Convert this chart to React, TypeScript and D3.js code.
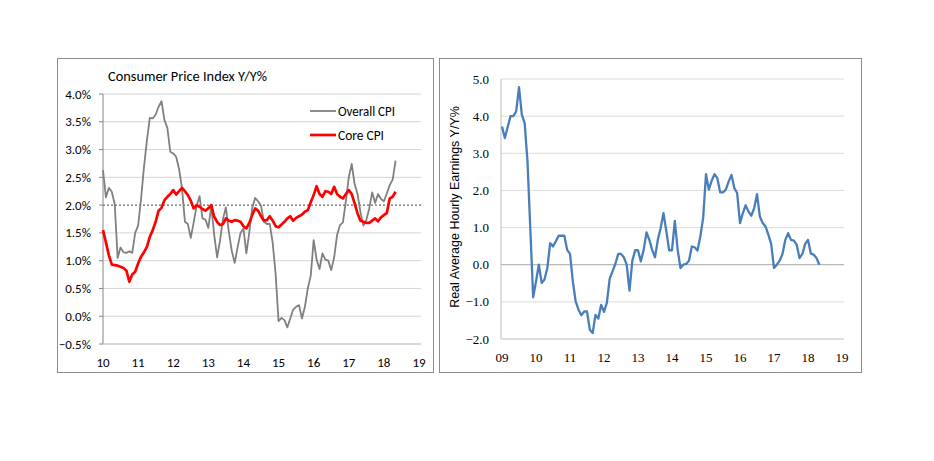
import * as d3 from 'd3';

// Consumer Price Index Y/Y%, monthly Jan 2010 - May 2018
const overallCpi = [
  2.63, 2.14, 2.31, 2.24, 2.02, 1.05, 1.24, 1.15, 1.14, 1.17, 1.14, 1.5,
  1.63, 2.11, 2.68, 3.16, 3.57, 3.56, 3.63, 3.77, 3.87, 3.53, 3.39, 2.96,
  2.93, 2.87, 2.65, 2.3, 1.7, 1.66, 1.41, 1.69, 1.99, 2.16, 1.76, 1.74,
  1.59, 1.98, 1.47, 1.06, 1.36, 1.75, 1.96, 1.52, 1.18, 0.96, 1.24, 1.5,
  1.58, 1.13, 1.51, 1.95, 2.13, 2.07, 1.99, 1.7, 1.66, 1.66, 1.32, 0.76,
  -0.09, -0.03, -0.07, -0.2, -0.04, 0.12, 0.17, 0.2, -0.04, 0.17, 0.5, 0.73,
  1.37, 1.02, 0.85, 1.13, 1.02, 1.0, 0.83, 1.06, 1.46, 1.64, 1.69, 2.07,
  2.5, 2.74, 2.38, 2.2, 1.87, 1.63, 1.73, 1.94, 2.23, 2.04, 2.2, 2.11,
  2.07, 2.21, 2.36, 2.46, 2.8,
];
const coreCpi = [
  1.55, 1.33, 1.1, 0.93, 0.92, 0.91, 0.89, 0.87, 0.82, 0.62, 0.75, 0.8,
  0.95, 1.07, 1.15, 1.25, 1.43, 1.55, 1.7, 1.9, 1.95, 2.09, 2.15, 2.2,
  2.27, 2.19, 2.25, 2.31, 2.25, 2.18, 2.08, 1.94, 2.0, 1.97, 1.93, 1.9,
  1.94, 2.0, 1.79, 1.7, 1.64, 1.66, 1.76, 1.72, 1.7, 1.73, 1.72, 1.7,
  1.62, 1.58, 1.68, 1.82, 1.94, 1.9, 1.8, 1.72, 1.73, 1.8, 1.72, 1.62,
  1.6, 1.65, 1.7, 1.76, 1.8, 1.72, 1.77, 1.8, 1.83, 1.88, 1.91, 2.05,
  2.18, 2.34, 2.2, 2.15, 2.25, 2.24, 2.2, 2.33, 2.2, 2.15, 2.12, 2.2,
  2.27, 2.2, 2.03, 1.85, 1.72, 1.7, 1.68, 1.68, 1.72, 1.76, 1.71, 1.78,
  1.82, 1.86, 2.12, 2.15, 2.24,
];
const cpiYears = ['10', '11', '12', '13', '14', '15', '16', '17', '18', '19'];
const cpiTicks = [-0.5, 0, 0.5, 1, 1.5, 2, 2.5, 3, 3.5, 4];

// Real Average Hourly Earnings Y/Y%, monthly Jan 2009 - May 2018
const realEarnings = [
  3.72, 3.41, 3.7, 4.0, 4.0, 4.13, 4.78, 4.04, 3.81, 2.78, 0.95, -0.88,
  -0.45, 0.0, -0.49, -0.4, -0.09, 0.58, 0.49, 0.63, 0.78, 0.78, 0.78, 0.4,
  0.29, -0.45, -0.99, -1.21, -1.36, -1.26, -1.26, -1.75, -1.84, -1.35, -1.45, -1.08,
  -1.27, -1.03, -0.38, -0.18, 0.02, 0.29, 0.29, 0.2, 0.0, -0.7, 0.11, 0.39,
  0.39, 0.09, 0.4, 0.87, 0.67, 0.4, 0.2, 0.67, 0.99, 1.39, 0.9, 0.39,
  0.39, 1.18, 0.4, -0.09, 0.0, 0.02, 0.11, 0.49, 0.47, 0.38, 0.76, 1.26,
  2.44, 2.02, 2.26, 2.44, 2.33, 1.95, 1.95, 2.02, 2.24, 2.42, 2.06, 1.93,
  1.12, 1.39, 1.6, 1.43, 1.32, 1.52, 1.9, 1.3, 1.12, 1.03, 0.81, 0.56,
  -0.09, 0.0, 0.11, 0.29, 0.67, 0.85, 0.67, 0.65, 0.54, 0.18, 0.29, 0.56,
  0.67, 0.3, 0.27, 0.18, 0.0,
];
const earnYears = ['09', '10', '11', '12', '13', '14', '15', '16', '17', '18', '19'];
const earnTicks = [-2, -1, 0, 1, 2, 3, 4, 5];

const sans = 'Carlito, Lato, "Open Sans", sans-serif';
const serif = '"Liberation Serif", "Times New Roman", serif';
const arial = '"Liberation Sans", Arial, sans-serif';

function CpiChart() {
  const x = d3.scaleLinear().domain([0, 108]).range([103, 419]);
  const y = d3.scaleLinear().domain([-0.5, 4]).range([344, 94]);
  const line = d3.line<number>().x((_, i) => x(i)).y((d) => y(d));

  return (
    <g>
      <rect x={57.5} y={58.5} width={376} height={314} fill="#fff" stroke="#8c8c8c" />
      <text x={108} y={81} fontFamily={sans} fontSize={14.5} fill="#000" textLength={159} lengthAdjust="spacingAndGlyphs">
        Consumer Price Index Y/Y%
      </text>
      {cpiTicks.map((t) => (
        <g key={t}>
          {t !== -0.5 && t !== 2 && (
            <line x1={x(0)} x2={421} y1={y(t)} y2={y(t)} stroke="#d4d4d4" />
          )}
          <line x1={99} x2={103} y1={y(t)} y2={y(t)} stroke="#868686" />
          <text x={91} y={y(t)} dy="0.35em" textAnchor="end" fontFamily={sans} fontSize={13} fill="#000">
            {d3.format('.1%')(t / 100)}
          </text>
        </g>
      ))}
      <line x1={x(0)} x2={421} y1={y(2)} y2={y(2)} stroke="#404040" strokeDasharray="2,2" />
      <line x1={x(0)} x2={x(0)} y1={94} y2={y(-0.5)} stroke="#868686" />
      <line x1={x(0)} x2={421} y1={y(-0.5)} y2={y(-0.5)} stroke="#b0b0b0" />
      {cpiYears.map((lab, i) => (
        <text key={lab} x={x(i * 12)} y={362} dy="0.35em" textAnchor="middle" fontFamily={sans} fontSize={13} fill="#000">
          {lab}
        </text>
      ))}
      <path d={line(overallCpi) ?? ''} fill="none" stroke="#808080" strokeWidth={1.8} strokeLinejoin="round" />
      <path d={line(coreCpi) ?? ''} fill="none" stroke="#ff0000" strokeWidth={2.7} strokeLinejoin="round" />
      <line x1={310} x2={336} y1={111} y2={111} stroke="#808080" strokeWidth={1.8} />
      <text x={338} y={111} dy="0.35em" fontFamily={sans} fontSize={14.5} fill="#000" textLength={57} lengthAdjust="spacingAndGlyphs">
        Overall CPI
      </text>
      <line x1={310} x2={336} y1={135} y2={135} stroke="#ff0000" strokeWidth={2.7} />
      <text x={338} y={135} dy="0.35em" fontFamily={sans} fontSize={14.5} fill="#000" textLength={46} lengthAdjust="spacingAndGlyphs">
        Core CPI
      </text>
    </g>
  );
}

function EarningsChart() {
  const x = d3.scaleLinear().domain([0, 120]).range([502, 842]);
  const y = d3.scaleLinear().domain([-2, 5]).range([339, 79]);
  const line = d3.line<number>().x((_, i) => x(i)).y((d) => y(d));

  return (
    <g>
      <rect x={439.5} y={58.5} width={422} height={314} fill="#fff" stroke="#8c8c8c" />
      {earnTicks.map((t) => (
        <g key={t}>
          {t !== -2 && (
            <line x1={501} x2={844} y1={y(t)} y2={y(t)} stroke={t === 0 ? '#a6a6a6' : '#dcdcdc'} />
          )}
          <text x={489} y={y(t)} dy="0.35em" textAnchor="end" fontFamily={serif} fontSize={13} fill="#000">
            {d3.format('.1f')(t)}
          </text>
        </g>
      ))}
      <line x1={501} x2={501} y1={79} y2={339} stroke="#bfbfbf" />
      <line x1={501} x2={844} y1={339} y2={339} stroke="#bfbfbf" />
      {earnYears.map((lab, i) => (
        <text key={lab} x={x(i * 12)} y={357} dy="0.35em" textAnchor="middle" fontFamily={serif} fontSize={13} fill="#000">
          {lab}
        </text>
      ))}
      <text
        transform="translate(459,207) rotate(-90)"
        textAnchor="middle"
        fontFamily={arial}
        fontSize={12.5}
        fill="#000"
      >
        Real Average Hourly Earnings Y/Y%
      </text>
      <path d={line(realEarnings) ?? ''} fill="none" stroke="#4a7ebb" strokeWidth={2.3} strokeLinejoin="round" />
    </g>
  );
}

export default function App() {
  return (
    <div style={{ position: 'absolute', left: 0, top: 0, width: 934, height: 461, background: '#fff' }}>
      <svg width={934} height={461} viewBox="0 0 934 461">
        <rect width={934} height={461} fill="#fff" />
        <CpiChart />
        <EarningsChart />
      </svg>
    </div>
  );
}
